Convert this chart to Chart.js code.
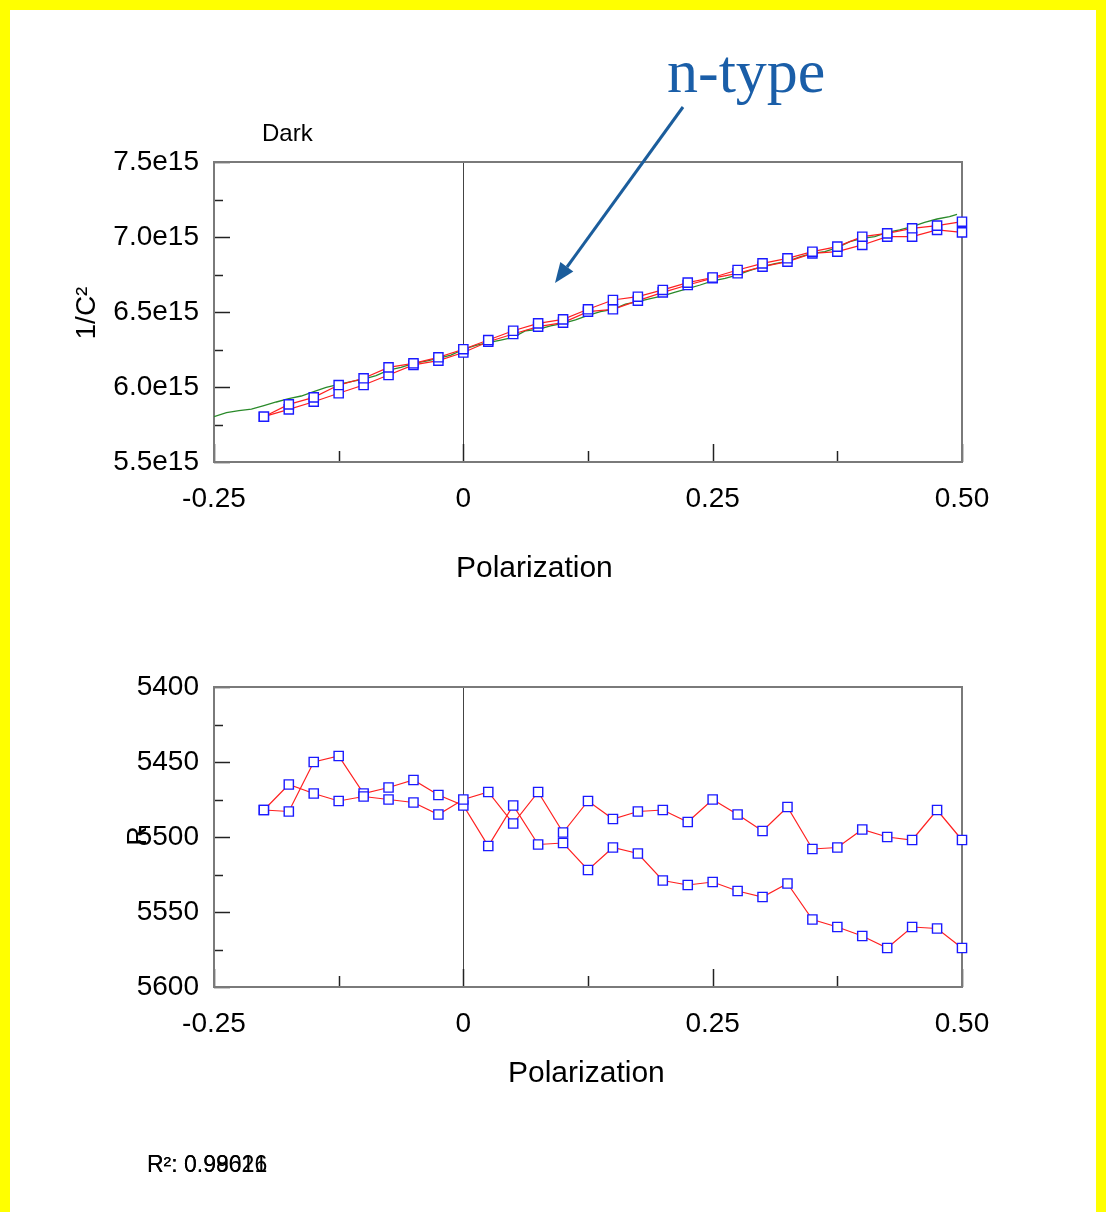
<!DOCTYPE html>
<html>
<head>
<meta charset="utf-8">
<script src="https://cdn.jsdelivr.net/npm/chart.js@4.4.0/dist/chart.umd.min.js"></script>
<style>
  html, body { margin: 0; padding: 0; background: #fff; }
  #page { position: relative; width: 1106px; height: 1212px; overflow: hidden; background: #fff;
          font-family: 'Liberation Sans', Arial, sans-serif; color: #000; }
  #frame { position: absolute; left: 0; top: 0; width: 1106px; height: 1222px; box-sizing: border-box;
           border: 10px solid #ffff00; }
  canvas { position: absolute; left: 0; }
  .t { position: absolute; white-space: nowrap; line-height: 1; }
  .rot { position: absolute; white-space: nowrap; line-height: 1; transform: translate(-50%, -50%) rotate(-90deg); }
</style>
</head>
<body>
<div id="page">
  <div id="frame"></div>
  <canvas id="topChart" width="1106" height="600" style="top:0"></canvas>
  <canvas id="botChart" width="1106" height="612" style="top:600px"></canvas>

  <div class="t" style="left:667px; top:40px; font-family:'Liberation Serif','Times New Roman',serif; font-size:62px; color:#1a5ea8;">n-type</div>
  <svg style="position:absolute;left:0;top:0" width="1106" height="1212">
    <line x1="683" y1="107" x2="567" y2="267" stroke="#1b5d9c" stroke-width="3"/>
    <polygon points="555,283 560.3,262.1 573.3,271.5" fill="#1b5d9c"/>
  </svg>

  <div class="t" style="left:262px; top:121px; font-size:24px;">Dark</div>
  <div class="rot" style="left:86px; top:313px; font-size:28px;">1/C²</div>
  <div class="t" style="left:456px; top:552px; font-size:30px;">Polarization</div>

  <div class="rot" style="left:137px; top:836px; font-size:27px;">R</div>
  <div class="t" style="left:508px; top:1057px; font-size:30px;">Polarization</div>

  <div class="t" style="left:147px; top:1153px; font-size:23px;">R²: 0.99621</div>
  <div class="t" style="left:147px; top:1153px; font-size:23px;">R²: 0.98016</div>
</div>

<script>
// ---- data (top chart values in units of 1e15) ----
var markerX = [-0.2, -0.175, -0.15, -0.125, -0.1, -0.075, -0.05, -0.025, 0, 0.025, 0.05, 0.075, 0.1, 0.125,
               0.15, 0.175, 0.2, 0.225, 0.25, 0.275, 0.3, 0.325, 0.35, 0.375, 0.4, 0.425, 0.45, 0.475, 0.5];

var invC2_a = [5.802, 5.884, 5.931, 6.013, 6.058, 6.131, 6.158, 6.198, 6.252, 6.313, 6.375, 6.424, 6.451, 6.518,
               6.580, 6.602, 6.647, 6.696, 6.730, 6.780, 6.824, 6.858, 6.902, 6.936, 7.002, 7.024, 7.058, 7.076, 7.102];
var invC2_b = [5.802, 5.851, 5.902, 5.958, 6.013, 6.080, 6.147, 6.176, 6.230, 6.302, 6.353, 6.402, 6.429, 6.502,
               6.518, 6.576, 6.631, 6.680, 6.726, 6.758, 6.802, 6.836, 6.891, 6.902, 6.947, 7.002, 7.002, 7.047, 7.031];

var greenX = [-0.25, -0.2375, -0.225, -0.2125, -0.2, -0.1875, -0.175, -0.1625, -0.15, -0.1375, -0.125, -0.1125,
              -0.1, -0.0875, -0.075, -0.0625, -0.05, -0.0375, -0.025, -0.0125, 0, 0.0125, 0.025, 0.0375,
              0.05, 0.0625, 0.075, 0.0875, 0.1, 0.1125, 0.125, 0.1375, 0.15, 0.1625, 0.175, 0.1875,
              0.2, 0.2125, 0.225, 0.2375, 0.25, 0.2625, 0.275, 0.2875, 0.3, 0.3125, 0.325, 0.3375,
              0.35, 0.3625, 0.375, 0.3875, 0.4, 0.4125, 0.425, 0.4375, 0.45, 0.4625, 0.475, 0.4875, 0.495];
var greenY = [5.802, 5.829, 5.842, 5.853, 5.876, 5.900, 5.922, 5.940, 5.969, 5.998, 6.018, 6.036,
              6.053, 6.076, 6.113, 6.131, 6.158, 6.173, 6.191, 6.213, 6.250, 6.278, 6.296, 6.313,
              6.331, 6.375, 6.384, 6.407, 6.424, 6.447, 6.478, 6.502, 6.518, 6.553, 6.569, 6.589,
              6.607, 6.633, 6.656, 6.680, 6.708, 6.724, 6.747, 6.778, 6.802, 6.822, 6.838, 6.867,
              6.891, 6.902, 6.929, 6.969, 6.991, 7.002, 7.031, 7.047, 7.069, 7.098, 7.120, 7.136, 7.151];

// ---- data (bottom chart, R) ----
var resA = [5482, 5465, 5471, 5476, 5473, 5475, 5477, 5485, 5475, 5470, 5491, 5470, 5497, 5476, 5488,
            5483, 5482, 5490, 5475, 5485, 5496, 5480, 5508, 5507, 5495, 5500, 5502, 5482, 5502];
var resB = [5482, 5483, 5450, 5446, 5471, 5467, 5462, 5472, 5479, 5506, 5479, 5505, 5504, 5522, 5507,
            5511, 5529, 5532, 5530, 5536, 5540, 5531, 5555, 5560, 5566, 5574, 5560, 5561, 5574];

var xTickLabels = { '-0.25': '-0.25', '0': '0', '0.25': '0.25', '0.5': '0.50' };

var tickFont = { family: "'Liberation Sans', Arial, sans-serif", size: 28 };

function pts(xs, ys) {
    return xs.map(function (x, i) { return { x: x, y: ys[i] }; });
}

function redSet(data) {
    return {
        data: data,
        borderColor: '#ff2020',
        borderWidth: 1.2,
        pointStyle: 'rect',
        pointRadius: 6.5,
        pointBorderColor: '#1a1aff',
        pointBackgroundColor: '#ffffff',
        pointBorderWidth: 1.4,
        tension: 0,
        clip: 12
    };
}

// frame, zero line and inside tick marks
var frameTicks = {
    id: 'frameTicks',
    beforeDatasetsDraw: function (chart, args, opts) {
        var ctx = chart.ctx, a = chart.chartArea;
        var xs = chart.scales.x, ys = chart.scales.y;
        ctx.save();
        // zero line
        var x0 = Math.round(xs.getPixelForValue(0)) + 0.5;
        ctx.strokeStyle = '#444';
        ctx.lineWidth = 1;
        ctx.beginPath();
        ctx.moveTo(x0, a.top); ctx.lineTo(x0, a.bottom);
        ctx.stroke();

        // ticks
        ctx.strokeStyle = '#222';
        ctx.lineWidth = 1.5;
        xs.ticks.forEach(function (t) {
            var px = Math.round(xs.getPixelForValue(t.value)) + 0.5;
            var major = Math.abs(t.value / opts.xMajor - Math.round(t.value / opts.xMajor)) < 1e-6;
            var len = major ? 18 : 11;
            ctx.beginPath();
            ctx.moveTo(px, a.bottom); ctx.lineTo(px, a.bottom - len);
            ctx.stroke();
        });
        ys.ticks.forEach(function (t) {
            var py = Math.round(ys.getPixelForValue(t.value)) + 0.5;
            var major = Math.abs(t.value / opts.yMajor - Math.round(t.value / opts.yMajor)) < 1e-6;
            var len = major ? 16 : 9;
            ctx.beginPath();
            ctx.moveTo(a.left, py); ctx.lineTo(a.left + len, py);
            ctx.stroke();
        });

        // box
        ctx.strokeStyle = '#7a7a7a';
        ctx.lineWidth = 2;
        ctx.strokeRect(a.left, a.top, a.right - a.left, a.bottom - a.top);
        ctx.restore();
    }
};

function baseOptions(padTop, padBottom, yOpts, yMajor) {
    return {
        responsive: false,
        animation: false,
        devicePixelRatio: 1,
        layout: { padding: { left: 114, right: 144, top: padTop, bottom: padBottom } },
        plugins: {
            legend: { display: false },
            tooltip: { enabled: false },
            frameTicks: { xMajor: 0.25, yMajor: yMajor }
        },
        scales: {
            x: {
                type: 'linear',
                min: -0.25, max: 0.5,
                grid: { display: false, drawTicks: false },
                border: { display: false },
                afterFit: function (s) { s.height = 60; },
                ticks: {
                    stepSize: 0.125, autoSkip: false, maxRotation: 0, padding: 20,
                    color: '#000',
                    font: tickFont,
                    callback: function (v) {
                        var k = String(Math.round(v * 1000) / 1000);
                        return xTickLabels[k] !== undefined ? xTickLabels[k] : '';
                    }
                }
            },
            y: yOpts
        }
    };
}

var topY = {
    type: 'linear',
    min: 5.5, max: 7.5,
    grid: { display: false, drawTicks: false },
    border: { display: false },
    afterFit: function (s) { s.width = 100; },
    ticks: {
        stepSize: 0.25, autoSkip: false, padding: 15, color: '#000',
        font: tickFont,
        callback: function (v) {
            return Math.abs(v * 2 - Math.round(v * 2)) < 1e-6 ? v.toFixed(1) + 'e15' : '';
        }
    }
};

var botY = {
    type: 'linear',
    min: 5400, max: 5600,
    reverse: true,
    grid: { display: false, drawTicks: false },
    border: { display: false },
    afterFit: function (s) { s.width = 100; },
    ticks: {
        stepSize: 25, autoSkip: false, padding: 15, color: '#000',
        font: tickFont,
        callback: function (v) { return v % 50 === 0 ? String(v) : ''; }
    }
};

new Chart(document.getElementById('topChart').getContext('2d'), {
    type: 'line',
    data: {
        datasets: [
            redSet(pts(markerX, invC2_a)),
            redSet(pts(markerX, invC2_b)),
            {
                data: pts(greenX, greenY),
                borderColor: '#2a8a2a',
                borderWidth: 1.3,
                pointRadius: 0,
                tension: 0
            }
        ]
    },
    options: baseOptions(162, 78, topY, 0.5),
    plugins: [frameTicks]
});

new Chart(document.getElementById('botChart').getContext('2d'), {
    type: 'line',
    data: {
        datasets: [
            redSet(pts(markerX, resA)),
            redSet(pts(markerX, resB))
        ]
    },
    options: baseOptions(87, 165, botY, 50),
    plugins: [frameTicks]
});
</script>
</body>
</html>
